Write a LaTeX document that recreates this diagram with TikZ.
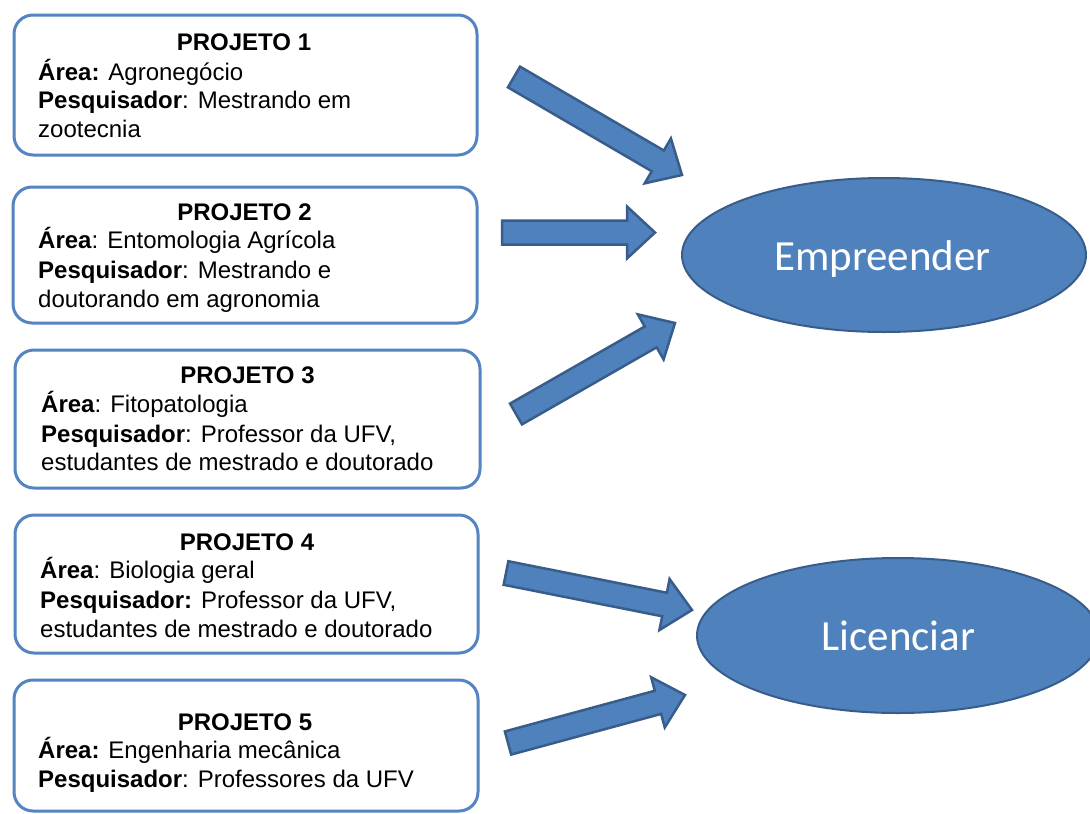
\documentclass[tikz,border=0pt]{standalone}
\usepackage{fontspec}
\setmainfont{Liberation Sans}
\newfontfamily\calibrifont{Carlito}
\usetikzlibrary{calc,shapes.geometric}

\definecolor{boxline}{RGB}{84,132,194}
\definecolor{shapefill}{RGB}{79,129,189}
\definecolor{shapeline}{RGB}{56,93,138}

\tikzset{
  pbox/.style={draw=boxline, line width=3pt, rounded corners=19pt, fill=white, inner sep=0pt},
  ptitle/.style={anchor=base, inner sep=0pt, font=\fontsize{24}{29}\selectfont\bfseries},
  pline/.style={anchor=base west, inner sep=0pt, font=\fontsize{24}{29}\selectfont},
  goal/.style={ellipse, draw=shapeline, line width=2pt, fill=shapefill, inner sep=0pt},
  goaltext/.style={anchor=base, inner sep=0pt, text=white, font=\calibrifont\fontsize{43}{50}\selectfont},
  barrow/.style={draw=shapeline, line width=2.5pt, fill=shapefill, line join=miter}
}

% block arrow from #1 (tail centre) to #2 (tip)
\newcommand{\blockarrow}[2]{%
  \draw[barrow] let \p1=(#1), \p2=(#2),
      \n1={atan2(\y2-\y1,\x2-\x1)},
      \n2={veclen(\x2-\x1,\y2-\y1)-28} in
    ($(\p1)+(\n1+90:12)$) -- ($(\p1)+(\n1:\n2)+(\n1+90:12)$)
    -- ($(\p1)+(\n1:\n2)+(\n1+90:26)$) -- (\p2)
    -- ($(\p1)+(\n1:\n2)+(\n1-90:26)$) -- ($(\p1)+(\n1:\n2)+(\n1-90:12)$)
    -- ($(\p1)+(\n1-90:12)$) -- cycle;}

\begin{document}
\begin{tikzpicture}[x=1pt,y=1pt]
\useasboundingbox (0,0) rectangle (1090,-814);
\clip (0,0) rectangle (1090,-814);
\fill[white] (0,0) rectangle (1090,-814);

% project boxes
\node[pbox, minimum width=463pt, minimum height=140pt] (p1) at (245.5,-85) {};
\node[pbox, minimum width=464pt, minimum height=136pt] (p2) at (245,-255) {};
\node[pbox, minimum width=465pt, minimum height=138pt] (p3) at (247.5,-419) {};
\node[pbox, minimum width=463pt, minimum height=138pt] (p4) at (246.5,-584) {};
\node[pbox, minimum width=464pt, minimum height=131pt] (p5) at (246,-745.5) {};

% box 1
\node[ptitle] (t1) at (244,-50) {PROJETO 1};
\node[pline] (t1a) at (38,-80) {\textbf{Área:} Agronegócio};
\node[pline] (t1b) at (38,-108) {\textbf{Pesquisador}: Mestrando em};
\node[pline] (t1c) at (38,-137) {zootecnia};

% box 2
\node[ptitle] (t2) at (244.5,-220) {PROJETO 2};
\node[pline] (t2a) at (38,-248) {\textbf{Área}: Entomologia Agrícola};
\node[pline] (t2b) at (38,-278) {\textbf{Pesquisador}: Mestrando e};
\node[pline] (t2c) at (38,-307) {doutorando em agronomia};

% box 3
\node[ptitle] (t3) at (247.5,-383) {PROJETO 3};
\node[pline] (t3a) at (41,-412) {\textbf{Área}: Fitopatologia};
\node[pline] (t3b) at (41,-442) {\textbf{Pesquisador}: Professor da UFV,};
\node[pline] (t3c) at (41,-470) {estudantes de mestrado e doutorado};

% box 4
\node[ptitle] (t4) at (247,-550) {PROJETO 4};
\node[pline] (t4a) at (40,-578) {\textbf{Área}: Biologia geral};
\node[pline] (t4b) at (40,-608) {\textbf{Pesquisador:} Professor da UFV,};
\node[pline] (t4c) at (40,-637) {estudantes de mestrado e doutorado};

% box 5
\node[ptitle] (t5) at (245,-730) {PROJETO 5};
\node[pline] (t5a) at (38,-758) {\textbf{Área:} Engenharia mecânica};
\node[pline] (t5b) at (38,-787) {\textbf{Pesquisador}: Professores da UFV};

% goals
\node[goal, minimum width=404pt, minimum height=154pt] (emp) at (884,-255) {};
\node[goaltext] (empl) at (882.5,-270) {Empreender};
\node[goal, minimum width=402pt, minimum height=155pt] (lic) at (898,-635.5) {};
\node[goaltext] (licl) at (898.5,-650) {Licenciar};

% arrow ends
\coordinate (a1s) at (514,-77);   \coordinate (a1e) at (682,-175);
\coordinate (a2s) at (502,-232.5); \coordinate (a2e) at (655,-232.5);
\coordinate (a3s) at (516,-414);  \coordinate (a3e) at (675,-323);
\coordinate (a4s) at (506,-573);  \coordinate (a4e) at (692,-610);
\coordinate (a5s) at (508,-743);  \coordinate (a5e) at (685,-695);

\blockarrow{a1s}{a1e}
\blockarrow{a2s}{a2e}
\blockarrow{a3s}{a3e}
\blockarrow{a4s}{a4e}
\blockarrow{a5s}{a5e}
\end{tikzpicture}
\end{document}
